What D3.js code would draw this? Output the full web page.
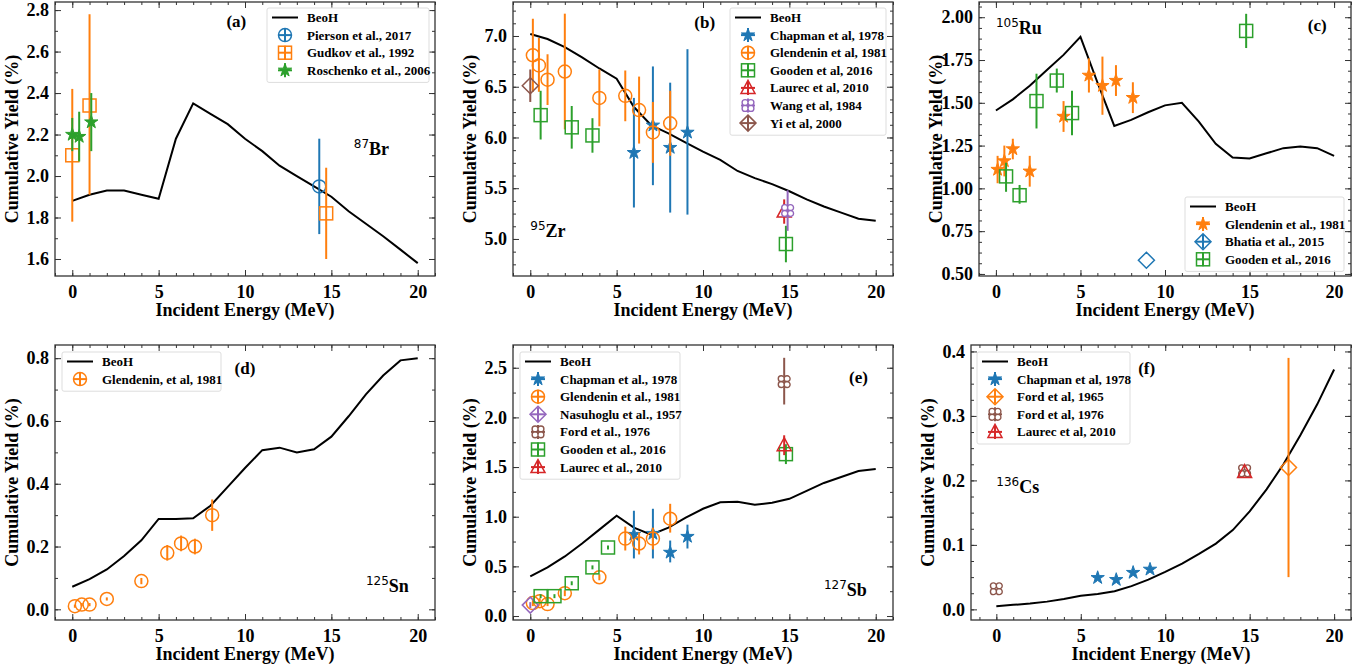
<!DOCTYPE html>
<html>
<head>
<meta charset="utf-8">
<script src="https://cdn.jsdelivr.net/npm/d3@7"></script>
<style>
  body { margin: 0; background: #fff; }
</style>
</head>
<body>
<svg id="chart" width="1370" height="668"></svg>
<script>
// ---- data (energy MeV, yield %, lower, upper) ----
const energies = d3.range(0, 21);

const brBeoh = [1.88,1.91,1.93,1.93,1.91,1.89,2.18,2.35,2.30,2.25,2.18,2.12,2.05,2.00,1.95,1.90,1.83,1.77,1.71,1.645,1.58];
const brPierson = [[14.3,1.95,1.72,2.18]];
const brGudkov = [[0,2.10,1.78,2.42],[1.0,2.34,1.91,2.78],[14.7,1.82,1.60,2.04]];
const brRoschenko = [[0,2.20,2.12,2.28],[0.4,2.19,2.07,2.31],[1.1,2.26,2.12,2.40]];

const zrBeoh = [7.02,6.97,6.89,6.79,6.68,6.58,6.30,6.12,6.04,5.95,5.86,5.78,5.67,5.60,5.54,5.47,5.39,5.32,5.26,5.20,5.18];
const zrChapman = [[6.0,5.85,5.31,6.39],[7.1,6.12,5.53,6.70],[8.1,5.90,5.26,6.54],[9.1,6.05,5.24,6.87]];
const zrGlendenin = [[0.15,6.81,6.45,7.17],[0.5,6.71,6.45,6.98],[1.0,6.57,6.32,6.82],[2.0,6.65,6.08,7.22],[4.0,6.39,6.11,6.67],[5.5,6.41,6.16,6.66],[6.3,6.27,5.94,6.60],[7.1,6.05,5.75,6.35],[8.1,6.14,5.82,6.46]];
const zrGooden = [[0.6,6.22,5.98,6.46],[2.4,6.10,5.89,6.31],[3.6,6.02,5.85,6.19],[14.8,4.95,4.77,5.13]];
const zrLaurec = [[14.7,5.27,5.15,5.39]];
const zrWang = [[14.9,5.28,5.08,5.48]];
const zrYi = [[0,6.51,6.35,6.67]];

const ruBeoh = [1.455,1.52,1.60,1.69,1.78,1.885,1.62,1.365,1.40,1.445,1.485,1.50,1.39,1.26,1.18,1.175,1.205,1.235,1.245,1.235,1.19];
const ruGlendenin = [[0.1,1.11,1.03,1.19],[0.5,1.16,1.07,1.25],[1.0,1.23,1.17,1.29],[2.0,1.10,1.01,1.19],[4.0,1.42,1.33,1.51],[5.5,1.66,1.56,1.76],[6.3,1.60,1.43,1.77],[7.1,1.63,1.54,1.72],[8.1,1.53,1.44,1.62]];
const ruBhatia = [[8.9,0.58,0.58,0.58]];
const ruGooden = [[0.6,1.07,0.98,1.15],[1.4,0.96,0.91,1.02],[2.4,1.51,1.35,1.67],[3.6,1.63,1.56,1.70],[4.5,1.44,1.31,1.57],[14.8,1.92,1.82,2.02]];

const snBeoh = [0.072,0.096,0.127,0.17,0.22,0.288,0.288,0.29,0.33,0.39,0.45,0.507,0.515,0.50,0.51,0.55,0.615,0.685,0.745,0.793,0.80];
const snGlendenin = [[0.15,0.010,0.005,0.015],[0.55,0.015,0.010,0.020],[1.0,0.015,0.010,0.020],[2.0,0.033,0.028,0.038],[4.0,0.09,0.08,0.10],[5.5,0.18,0.155,0.205],[6.3,0.21,0.185,0.235],[7.1,0.20,0.175,0.225],[8.1,0.30,0.25,0.35]];

const sbBeoh = [0.40,0.49,0.60,0.73,0.87,1.01,0.89,0.82,0.89,0.99,1.08,1.145,1.15,1.12,1.14,1.18,1.26,1.34,1.40,1.46,1.48];
const sbChapman = [[6.0,0.82,0.58,1.06],[7.1,0.83,0.58,1.08],[8.1,0.64,0.54,0.76],[9.1,0.80,0.68,0.92]];
const sbGlendenin = [[0.15,0.13,0.10,0.16],[0.55,0.15,0.12,0.18],[1.0,0.12,0.10,0.14],[2.0,0.23,0.20,0.26],[4.0,0.39,0.36,0.42],[5.5,0.78,0.66,0.90],[6.3,0.73,0.62,0.84],[7.1,0.78,0.67,0.89],[8.1,0.98,0.84,1.13]];
const sbNasuhoglu = [[0,0.11,0.08,0.14]];
const sbFord1976 = [[14.7,2.36,2.13,2.60]];
const sbGooden = [[0.6,0.20,0.18,0.22],[1.4,0.20,0.18,0.22],[2.4,0.33,0.31,0.35],[3.6,0.49,0.47,0.51],[4.5,0.69,0.67,0.71],[14.8,1.63,1.53,1.73]];
const sbLaurec = [[14.7,1.72,1.62,1.82]];

const csBeoh = [0.005,0.007,0.009,0.012,0.016,0.021,0.024,0.028,0.036,0.046,0.058,0.071,0.086,0.102,0.123,0.152,0.186,0.225,0.270,0.318,0.372];
const csChapman = [[6.0,0.049,0.049,0.049],[7.1,0.046,0.046,0.046],[8.1,0.057,0.057,0.057],[9.1,0.062,0.062,0.062]];
const csFord1965 = [[17.3,0.22,0.05,0.39]];
const csFord1976 = [[0,0.032,0.032,0.032],[14.7,0.215,0.215,0.215]];
const csLaurec = [[14.7,0.213,0.213,0.213]];

const C = { blue:"#1f77b4", orange:"#ff7f0e", green:"#2ca02c", red:"#d62728", purple:"#9467bd", brown:"#8c564b" };
const SERIF = "'Liberation Serif', 'Times New Roman', serif";

const panels = [
  { box:[55,2,380,274], x:[-1,21], y:[1.518,2.839], major:0.2, minor:0.1, fmt:".1f",
    line:brBeoh, tag:"(a)", tagAt:[9.5,2.72], nuc:["87","Br"], nucAt:[16.3,2.1],
    legend:{ pos:[267,8], w:162 },
    series:[["Pierson et al., 2017",brPierson,C.blue,"circle"],["Gudkov et al., 1992",brGudkov,C.orange,"square"],["Roschenko et al., 2006",brRoschenko,C.green,"star"]] },
  { box:[513,2,380,274], x:[-1,21], y:[4.635,7.335], major:0.5, minor:0.125, fmt:".1f",
    line:zrBeoh, tag:"(b)", tagAt:[10.1,7.08], nuc:["95","Zr"], nucAt:[0,5.02],
    legend:{ pos:[730,8], w:156 },
    series:[["Chapman et al, 1978",zrChapman,C.blue,"star"],["Glendenin et al, 1981",zrGlendenin,C.orange,"circle"],["Gooden et al, 2016",zrGooden,C.green,"square"],["Laurec et al, 2010",zrLaurec,C.red,"triangle"],["Wang et al, 1984",zrWang,C.purple,"clover"],["Yi et al, 2000",zrYi,C.brown,"diamond"]] },
  { box:[979,2,372,274], x:[-1,21], y:[0.488,2.089], major:0.25, minor:0.0625, fmt:".2f",
    line:ruBeoh, tag:"(c)", tagAt:[19,1.92], nuc:["105","Ru"], nucAt:[0,1.9],
    legend:{ pos:[1185,197], w:159 },
    series:[["Glendenin et al., 1981",ruGlendenin,C.orange,"star"],["Bhatia et al., 2015",ruBhatia,C.blue,"diamond"],["Gooden et al., 2016",ruGooden,C.green,"square"]] },
  { box:[55,345,380,275], x:[-1,21], y:[-0.034,0.842], major:0.2, minor:0.1, fmt:".1f",
    line:snBeoh, tag:"(d)", tagAt:[10,0.75], nuc:["125","Sn"], nucAt:[17,0.055],
    legend:{ pos:[62,352], w:159 },
    series:[["Glendenin, et al, 1981",snGlendenin,C.orange,"circle"]] },
  { box:[513,345,380,275], x:[-1,21], y:[-0.04,2.729], major:0.5, minor:0.25, fmt:".1f",
    line:sbBeoh, tag:"(e)", tagAt:[19,2.35], nuc:["127","Sb"], nucAt:[17,0.2],
    legend:{ pos:[520,352], w:160 },
    series:[["Chapman et al., 1978",sbChapman,C.blue,"star"],["Glendenin et al., 1981",sbGlendenin,C.orange,"circle"],["Nasuhoglu et al., 1957",sbNasuhoglu,C.purple,"diamond"],["Ford et al., 1976",sbFord1976,C.brown,"clover"],["Gooden et al., 2016",sbGooden,C.green,"square"],["Laurec et al., 2010",sbLaurec,C.red,"triangle"]] },
  { box:[971,345,380,275], x:[-1.5,21], y:[-0.0165,0.41], major:0.1, minor:0.025, fmt:".1f",
    line:csBeoh, tag:"(f)", tagAt:[8.9,0.365], nuc:["136","Cs"], nucAt:[0,0.18],
    legend:{ pos:[977,352], w:153 },
    series:[["Chapman et al, 1978",csChapman,C.blue,"star"],["Ford et al, 1965",csFord1965,C.orange,"diamond"],["Ford et al, 1976",csFord1976,C.brown,"clover"],["Laurec et al, 2010",csLaurec,C.red,"triangle"]] }
];

const svg = d3.select("#chart");

function marker(g, shape, color, x, y) {
  if (shape === "circle") {
    g.append("circle").attr("cx", x).attr("cy", y).attr("r", 6.5)
      .attr("fill", "none").attr("stroke", color).attr("stroke-width", 1.5);
  } else if (shape === "square") {
    g.append("rect").attr("x", x - 6.5).attr("y", y - 6.5).attr("width", 13).attr("height", 13)
      .attr("fill", "none").attr("stroke", color).attr("stroke-width", 1.5);
  } else if (shape === "diamond") {
    g.append("path").attr("d", `M${x},${y-8}L${x+8},${y}L${x},${y+8}L${x-8},${y}Z`)
      .attr("fill", "none").attr("stroke", color).attr("stroke-width", 1.5);
  } else if (shape === "triangle") {
    g.append("path").attr("d", `M${x},${y-7.5}L${x+7},${y+5.5}L${x-7},${y+5.5}Z`)
      .attr("fill", "none").attr("stroke", color).attr("stroke-width", 1.5);
  } else if (shape === "star") {
    g.append("path").attr("d", d3.symbol(d3.symbolStar, 55)()).attr("transform", `translate(${x},${y})`)
      .attr("fill", color).attr("stroke", color).attr("stroke-width", 1);
  } else if (shape === "clover") {
    const s = 2.9;
    const p = d3.path();
    [[-1,-1],[1,-1],[1,1],[-1,1]].forEach(([dx, dy]) => {
      p.moveTo(x + dx * s + 3, y + dy * s); p.arc(x + dx * s, y + dy * s, 3, 0, 2 * Math.PI);
    });
    g.append("path").attr("d", p.toString()).attr("fill", "#fff").attr("stroke", color).attr("stroke-width", 1.4);
  }
}

const txt = sel => sel.style("font-family", SERIF).style("font-weight", "bold").attr("fill", "#000");

panels.forEach(p => {
  const [L, T, W, H] = p.box;
  const x = d3.scaleLinear().domain(p.x).range([L, L + W]);
  const y = d3.scaleLinear().domain(p.y).range([T + H, T]);
  const g = svg.append("g");

  const xMaj = d3.range(0, 21, 5), xMin = d3.range(Math.ceil(p.x[0]), 21.01, 1);
  const yMaj = d3.range(Math.ceil(p.y[0] / p.major - 1e-6) * p.major, p.y[1] + 1e-9, p.major);
  const yMin = d3.range(Math.ceil(p.y[0] / p.minor - 1e-6) * p.minor, p.y[1] + 1e-9, p.minor);

  // axes (ticks inward, all four sides); unlabeled ones lose their empty texts
  const addAxis = (axis, tr, labeled) => {
    const a = g.append("g").attr("transform", tr).call(axis);
    a.select(".domain").remove();
    a.selectAll("line").attr("stroke", "#333");
    if (labeled) txt(a.selectAll("text").style("font-size", "18px"));
    else a.selectAll("text").remove();
    return a;
  };
  addAxis(d3.axisBottom(x).tickValues(xMin).tickSize(-3), `translate(0,${T + H})`, false);
  addAxis(d3.axisBottom(x).tickValues(xMaj).tickSize(-6).tickPadding(9).tickFormat(d3.format("d")), `translate(0,${T + H})`, true);
  addAxis(d3.axisTop(x).tickValues(xMin).tickSize(-3), `translate(0,${T})`, false);
  addAxis(d3.axisTop(x).tickValues(xMaj).tickSize(-6), `translate(0,${T})`, false);
  addAxis(d3.axisLeft(y).tickValues(yMin).tickSize(-3), `translate(${L},0)`, false);
  addAxis(d3.axisLeft(y).tickValues(yMaj).tickSize(-6).tickPadding(6).tickFormat(d3.format(p.fmt)), `translate(${L},0)`, true);
  addAxis(d3.axisRight(y).tickValues(yMin).tickSize(-3), `translate(${L + W},0)`, false);
  addAxis(d3.axisRight(y).tickValues(yMaj).tickSize(-6), `translate(${L + W},0)`, false);
  g.append("rect").attr("x", L).attr("y", T).attr("width", W).attr("height", H)
    .attr("fill", "none").attr("stroke", "#333").attr("stroke-width", 1.3);

  // labels
  txt(g.append("text").attr("x", L + W / 2).attr("y", T + H + 40).attr("text-anchor", "middle")
    .style("font-size", "18px").text("Incident Energy (MeV)"));
  txt(g.append("text").attr("transform", `translate(${L - 37},${T + H / 2}) rotate(-90)`)
    .attr("text-anchor", "middle").style("font-size", "18px").text("Cumulative Yield (%)"));
  txt(g.append("text").attr("x", x(p.tagAt[0])).attr("y", y(p.tagAt[1])).attr("text-anchor", "middle")
    .style("font-size", "17px").text(p.tag));
  const nt = txt(g.append("text").attr("x", x(p.nucAt[0])).attr("y", y(p.nucAt[1])).style("font-size", "18px"));
  nt.append("tspan").style("font-size", "12px").style("font-weight", "normal").attr("dy", -7)
    .style("font-family", "'DejaVu Sans', sans-serif").text(p.nuc[0]);
  nt.append("tspan").attr("dy", 7).text(p.nuc[1]);

  // BeoH line
  g.append("path").datum(p.line)
    .attr("d", d3.line().x((d, i) => x(energies[i])).y(d => y(d)))
    .attr("fill", "none").attr("stroke", "#000").attr("stroke-width", 2);

  // experimental data
  p.series.forEach(([name, pts, col, shape]) => {
    pts.forEach(([e, v, lo, hi]) => {
      if (hi > lo) g.append("line").attr("x1", x(e)).attr("x2", x(e)).attr("y1", y(lo)).attr("y2", y(hi))
        .attr("stroke", col).attr("stroke-width", 2);
      marker(g, shape, col, x(e), y(v));
    });
  });

  // legend
  const [lx, ly] = p.legend.pos;
  const rows = [["BeoH", null, "#000", "line"]].concat(p.series);
  const rh = 17.6;
  const lg = svg.append("g");
  lg.append("rect").attr("x", lx).attr("y", ly).attr("width", p.legend.w).attr("height", rows.length * rh + 4)
    .attr("rx", 2).attr("fill", "#fff").attr("fill-opacity", 0.85).attr("stroke", "#ddd");
  rows.forEach(([name, , col, shape], i) => {
    const cy = ly + 9.5 + i * rh, cx = lx + 18;
    if (shape === "line") {
      lg.append("line").attr("x1", cx - 13).attr("x2", cx + 13).attr("y1", cy).attr("y2", cy)
        .attr("stroke", "#000").attr("stroke-width", 2);
    } else {
      lg.append("line").attr("x1", cx).attr("x2", cx).attr("y1", cy - 7).attr("y2", cy + 7).attr("stroke", col).attr("stroke-width", 2);
      lg.append("line").attr("x1", cx - 7).attr("x2", cx + 7).attr("y1", cy).attr("y2", cy).attr("stroke", col).attr("stroke-width", 2);
      marker(lg, shape, col, cx, cy);
    }
    txt(lg.append("text").attr("x", lx + 40).attr("y", cy + 4.5).style("font-size", "13px").text(name));
  });
});
</script>
</body>
</html>
